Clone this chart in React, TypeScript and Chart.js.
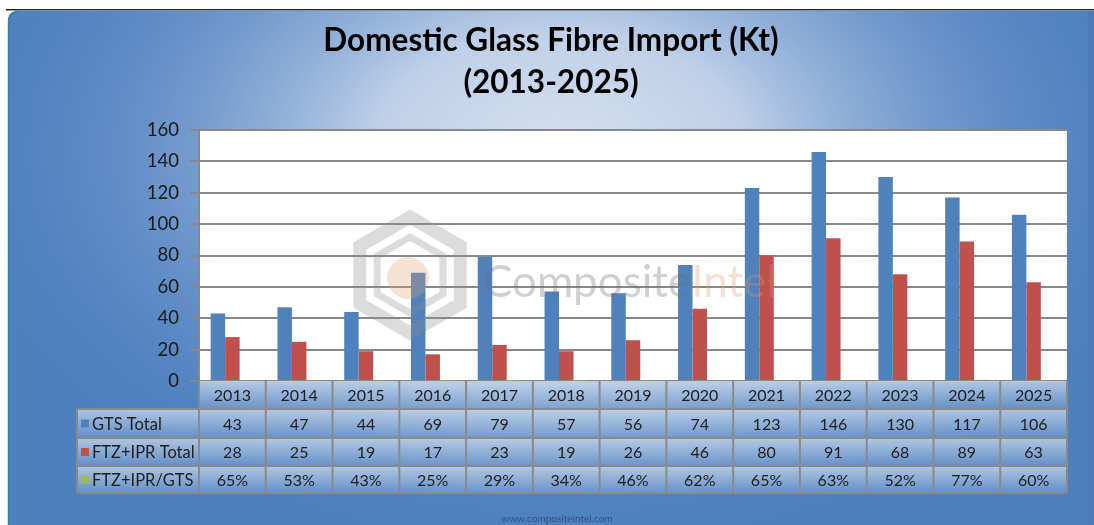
import React, { useEffect, useRef } from 'react';
import { Chart, registerables } from 'chart.js';

Chart.register(...registerables);

const years = ['2013', '2014', '2015', '2016', '2017', '2018', '2019', '2020', '2021', '2022', '2023', '2024', '2025'];
const gtsTotal = [43, 47, 44, 69, 79, 57, 56, 74, 123, 146, 130, 117, 106];
const ftzIprTotal = [28, 25, 19, 17, 23, 19, 26, 46, 80, 91, 68, 89, 63];
const ratioPct = [65, 53, 43, 25, 29, 34, 46, 62, 65, 63, 52, 77, 60];
const seriesNames = ['GTS Total', 'FTZ+IPR Total', 'FTZ+IPR/GTS'];
const seriesColors = ['#4f81bd', '#c0504d', '#9bbb59'];
const titleLines = ['Domestic Glass Fibre Import (Kt)', '(2013-2025)'];
const footerText = 'www.compositeintel.com';

const FONT = 'Lato, "Open Sans", sans-serif';

const bgPlugin = {
  id: 'bgPanel',
  beforeDraw(chart: any) {
    const { ctx, width, height, chartArea } = chart;
    ctx.save();
    ctx.fillStyle = '#ffffff';
    ctx.fillRect(0, 0, width, height);
    ctx.fillStyle = '#1d2630';
    ctx.fillRect(6, 9, width - 6, 1.5);
    const x0 = 8, y0 = 11, r = 11;
    ctx.beginPath();
    ctx.moveTo(x0 + r, y0);
    ctx.lineTo(width, y0);
    ctx.lineTo(width, height);
    ctx.lineTo(x0, height);
    ctx.lineTo(x0, y0 + r);
    ctx.quadraticCurveTo(x0, y0, x0 + r, y0);
    ctx.closePath();
    ctx.fillStyle = '#4e80bf';
    ctx.fill();
    ctx.save();
    ctx.clip();
    const cx = 560, cy = 150, rx = 620, ry = 400;
    ctx.translate(cx, cy);
    ctx.scale(1, ry / rx);
    const g = ctx.createRadialGradient(0, 0, 0, 0, 0, rx);
    g.addColorStop(0, 'rgba(214,225,240,1)');
    g.addColorStop(0.3, 'rgba(196,212,234,0.95)');
    g.addColorStop(0.6, 'rgba(140,172,215,0.6)');
    g.addColorStop(1, 'rgba(78,128,191,0)');
    ctx.fillStyle = g;
    ctx.fillRect(-rx, -rx, rx * 2, rx * 2);
    ctx.restore();
    // right darker strip
    ctx.fillStyle = 'rgba(70,115,180,0.5)';
    ctx.fillRect(1088, y0, width - 1088, height - y0);
    ctx.strokeStyle = '#3c7f9a';
    ctx.lineWidth = 1.5;
    ctx.beginPath();
    ctx.moveTo(x0 + 0.5, height);
    ctx.lineTo(x0 + 0.5, y0 + r);
    ctx.quadraticCurveTo(x0 + 0.5, y0 + 0.5, x0 + r, y0 + 0.5);
    ctx.stroke();
    // title
    ctx.fillStyle = '#000000';
    ctx.font = `bold 31.5px ${FONT}`;
    ctx.textAlign = 'center';
    ctx.textBaseline = 'middle';
    ctx.fillText(titleLines[0], 551, 41);
    ctx.fillText(titleLines[1], 551, 83);
    // plot area
    ctx.fillStyle = '#ffffff';
    ctx.fillRect(chartArea.left, chartArea.top, chartArea.right - chartArea.left, chartArea.bottom - chartArea.top);
    ctx.restore();
  },
};

const watermarkPlugin = {
  id: 'watermark',
  afterDatasetsDraw(chart: any) {
    const { ctx } = chart;
    ctx.save();
    const cx = 410, cy = 275;
    const hex = (R: number) => {
      ctx.beginPath();
      for (let k = 0; k < 6; k++) {
        const a = -Math.PI / 2 + (k * Math.PI) / 3;
        const px = cx + R * Math.cos(a);
        const py = cy + R * Math.sin(a);
        if (k === 0) ctx.moveTo(px, py);
        else ctx.lineTo(px, py);
      }
      ctx.closePath();
    };
    ctx.strokeStyle = 'rgba(140,140,140,0.3)';
    ctx.lineWidth = 13;
    hex(58);
    ctx.stroke();
    ctx.lineWidth = 7;
    hex(38);
    ctx.stroke();
    ctx.fillStyle = 'rgba(225,160,110,0.3)';
    ctx.beginPath();
    ctx.arc(cx - 2, cy + 3, 21, 0, Math.PI * 2);
    ctx.fill();
    ctx.font = `44px ${FONT}`;
    ctx.textBaseline = 'alphabetic';
    ctx.textAlign = 'left';
    ctx.fillStyle = 'rgba(110,110,110,0.32)';
    ctx.fillText('Composite', 483, 297);
    const w = ctx.measureText('Composite').width;
    ctx.fillStyle = 'rgba(225,150,100,0.3)';
    ctx.fillText('Intel', 483 + w, 297);
    ctx.restore();
  },
};

const tablePlugin = {
  id: 'dataTable',
  afterDraw(chart: any) {
    const { ctx, chartArea, scales } = chart;
    const xs = scales.x;
    const n = years.length;
    const cw = (chartArea.right - chartArea.left) / n;
    const rowsY = [chartArea.bottom, 409, 438, 466, 493];
    const labelLeft = 77;
    const rows: string[][] = [
      years,
      gtsTotal.map(String),
      ftzIprTotal.map(String),
      ratioPct.map((v) => v + '%'),
    ];
    ctx.save();
    const fillCell = (x: number, y: number, w: number, h: number) => {
      const g = ctx.createLinearGradient(0, y, 0, y + h);
      g.addColorStop(0, 'rgba(255,255,255,0.55)');
      g.addColorStop(1, 'rgba(255,255,255,0.12)');
      ctx.fillStyle = g;
      ctx.fillRect(x, y, w, h);
    };
    for (let r = 0; r < 4; r++) {
      const y = rowsY[r], h = rowsY[r + 1] - rowsY[r];
      for (let i = 0; i < n; i++) {
        const cxp = xs.getPixelForValue(i);
        fillCell(cxp - cw / 2, y, cw, h);
      }
      if (r > 0) fillCell(labelLeft, y, chartArea.left - labelLeft, h);
    }
    ctx.strokeStyle = '#8a8a8a';
    ctx.lineWidth = 2;
    ctx.beginPath();
    for (let r = 1; r < 5; r++) {
      ctx.moveTo(labelLeft, rowsY[r]);
      ctx.lineTo(chartArea.right, rowsY[r]);
    }
    for (let i = 0; i <= n; i++) {
      const x = i < n ? xs.getPixelForValue(i) - cw / 2 : xs.getPixelForValue(n - 1) + cw / 2;
      ctx.moveTo(x, rowsY[0]);
      ctx.lineTo(x, rowsY[4]);
    }
    ctx.moveTo(labelLeft, rowsY[1]);
    ctx.lineTo(labelLeft, rowsY[4]);
    ctx.stroke();
    ctx.font = `16px ${FONT}`;
    ctx.fillStyle = '#1e1e1e';
    ctx.textAlign = 'center';
    ctx.textBaseline = 'middle';
    for (let r = 0; r < 4; r++) {
      const yc = (rowsY[r] + rowsY[r + 1]) / 2 + 1;
      for (let i = 0; i < n; i++) {
        ctx.fillText(rows[r][i], xs.getPixelForValue(i), yc);
      }
    }
    ctx.textAlign = 'left';
    ctx.font = `16.5px ${FONT}`;
    for (let s = 0; s < 3; s++) {
      const yc = (rowsY[s + 1] + rowsY[s + 2]) / 2;
      ctx.fillStyle = seriesColors[s];
      ctx.fillRect(81, yc - 4, 8, 8);
      ctx.fillStyle = '#1e1e1e';
      ctx.fillText(seriesNames[s], 92, yc + 1);
    }
    ctx.font = `10px ${FONT}`;
    ctx.textAlign = 'center';
    ctx.fillStyle = 'rgba(40,70,120,0.8)';
    ctx.fillText(footerText, 557, 519);
    ctx.restore();
  },
};

export default function App() {
  const ref = useRef<HTMLCanvasElement | null>(null);
  useEffect(() => {
    if (!ref.current) return;
    const chart = new Chart(ref.current, {
      type: 'bar',
      data: {
        labels: years,
        datasets: [
          { label: seriesNames[0], data: gtsTotal, backgroundColor: seriesColors[0] },
          { label: seriesNames[1], data: ftzIprTotal, backgroundColor: seriesColors[1] },
          { label: seriesNames[2], data: ratioPct.map((v) => v / 100), backgroundColor: seriesColors[2] },
        ],
      },
      options: {
        responsive: false,
        animation: false,
        devicePixelRatio: 1,
        categoryPercentage: 0.65,
        barPercentage: 1,
        layout: { padding: { left: 0, right: 27, top: 130, bottom: 144 } },
        plugins: {
          legend: { display: false },
          tooltip: { enabled: false },
          title: { display: false },
        },
        scales: {
          x: { display: false },
          y: {
            min: 0,
            max: 160,
            ticks: { stepSize: 20, color: '#1a1a1a', font: { family: FONT, size: 18.5 }, padding: 11 },
            grid: { color: '#888888', lineWidth: 2, tickLength: 9 },
            border: { display: true, color: '#888888', width: 2 },
            afterFit: (scale: any) => {
              scale.width = 199;
            },
          },
        },
      } as any,
      plugins: [bgPlugin, watermarkPlugin, tablePlugin],
    });
    return () => chart.destroy();
  }, []);
  return (
    <div style={{ position: 'absolute', left: 0, top: 0, width: 1094, height: 525 }}>
      <canvas ref={ref} width={1094} height={525} style={{ display: 'block' }} />
    </div>
  );
}
